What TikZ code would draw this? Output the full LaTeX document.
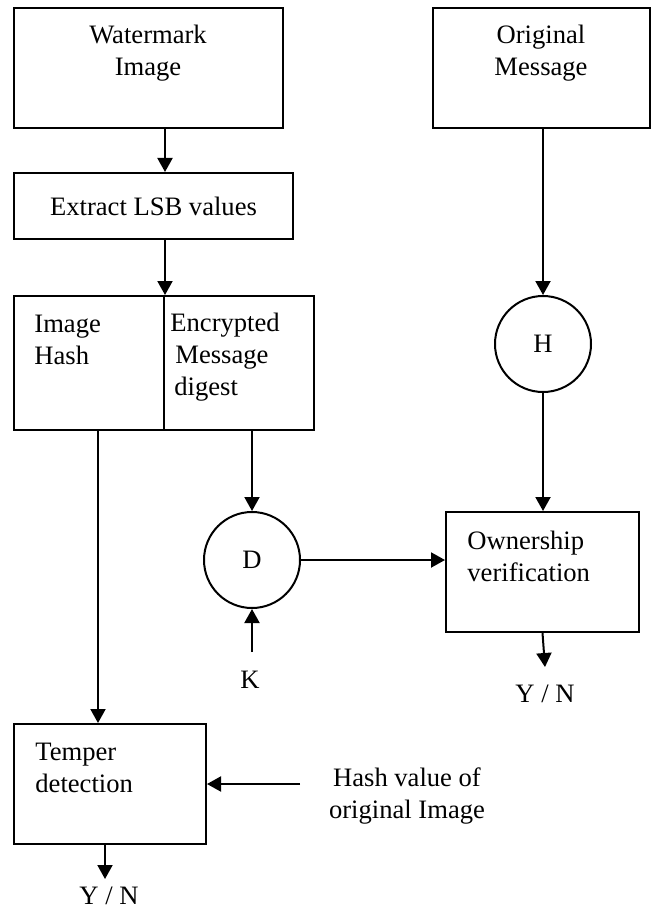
\documentclass[tikz,border=0pt]{standalone}
\usepackage{fontspec}
\setmainfont{Liberation Serif}
\usetikzlibrary{arrows.meta}

\tikzset{
	blk/.style={draw, line width=1pt, inner sep=0pt},
	txt/.style={inner sep=0pt, font=\fontsize{13.3}{16}\selectfont},
	rnd/.style={draw, circle, line width=1pt, minimum size=48pt, inner sep=0pt, font=\fontsize{13.3}{16}\selectfont},
	flow/.style={line width=1pt, -{Triangle[width=7.5pt,length=7pt]}}
}

\begin{document}
\begin{tikzpicture}[x=0.5pt, y=-0.5pt]
	
	\useasboundingbox (0,0) rectangle (653,909);
	
	% left column
	\node[blk, minimum width=134.5pt, minimum height=60pt] (wm) at (148.5,68) {};
	\node[txt, align=center] (wmtxt) at (148,53) {Watermark\\Image};
	\node[blk, minimum width=139.5pt, minimum height=33pt, txt, draw] (ext) at (153.5,206) {Extract LSB values};
	\node[blk, minimum width=75pt, minimum height=67pt] (hash) at (89,363) {};
	\node[blk, minimum width=75pt, minimum height=67pt] (dgst) at (239,363) {};
	\node[txt, align=left, anchor=west] (hashtxt) at (34,340) {Image\\Hash};
	\node[txt, align=left, anchor=west] (dgsttxt) at (170,357) {Encrypted\\\hspace{2.5pt}Message\\\hspace{2pt}digest};
	\node[blk, minimum width=96pt, minimum height=60pt] (tmp) at (110,784) {};
	\node[txt, align=left, anchor=west] (tmptxt) at (35,768) {Temper\\detection};
	\node[txt] (yn2) at (109,896) {Y / N};
	\node[txt, align=center] (hv) at (407,796) {Hash value of\\original Image};
	
	% middle
	\node[rnd] (dec) at (252,560) {D};
	\node[txt] (key) at (250,680) {K};
	
	% right column
	\node[blk, minimum width=108.5pt, minimum height=60pt] (orig) at (541.5,68) {};
	\node[txt, align=center] (origtxt) at (541,53) {Original\\Message};
	\node[rnd] (hsh) at (543,344) {H};
	\node[blk, minimum width=96.5pt, minimum height=60pt] (own) at (542.5,572) {};
	\node[txt, align=left, anchor=west] (owntxt) at (467,556) {Ownership\\verification};
	\node[txt] (yn1) at (545,694) {Y / N};
	
	\coordinate (kin) at (252,652);
	\coordinate (hvin) at (300,784);
	\coordinate (yn1in) at (545,667);
	\coordinate (yn2in) at (105,879);
	
	\draw[flow] (wm.south -| hash.east) -- (ext.north -| hash.east);
	\draw[flow] (ext.south -| hash.east) -- (hash.north east);
	\draw[flow] (hash.south -| 98,0) -- (tmp.north -| 98,0);
	\draw[flow] (dgst.south -| dec.north) -- (dec.north);
	\draw[flow] (kin) -- (dec.south);
	\draw[flow] (dec.east) -- (dec.east -| own.west);
	\draw[flow] (orig.south -| hsh.north) -- (hsh.north);
	\draw[flow] (hsh.south) -- (hsh.south |- own.north);
	\draw[flow] (own.south) -- (yn1in);
	\draw[flow] (hvin) -- (hvin -| tmp.east);
	\draw[flow] (tmp.south -| yn2in) -- (yn2in);
	
\end{tikzpicture}
\end{document}
